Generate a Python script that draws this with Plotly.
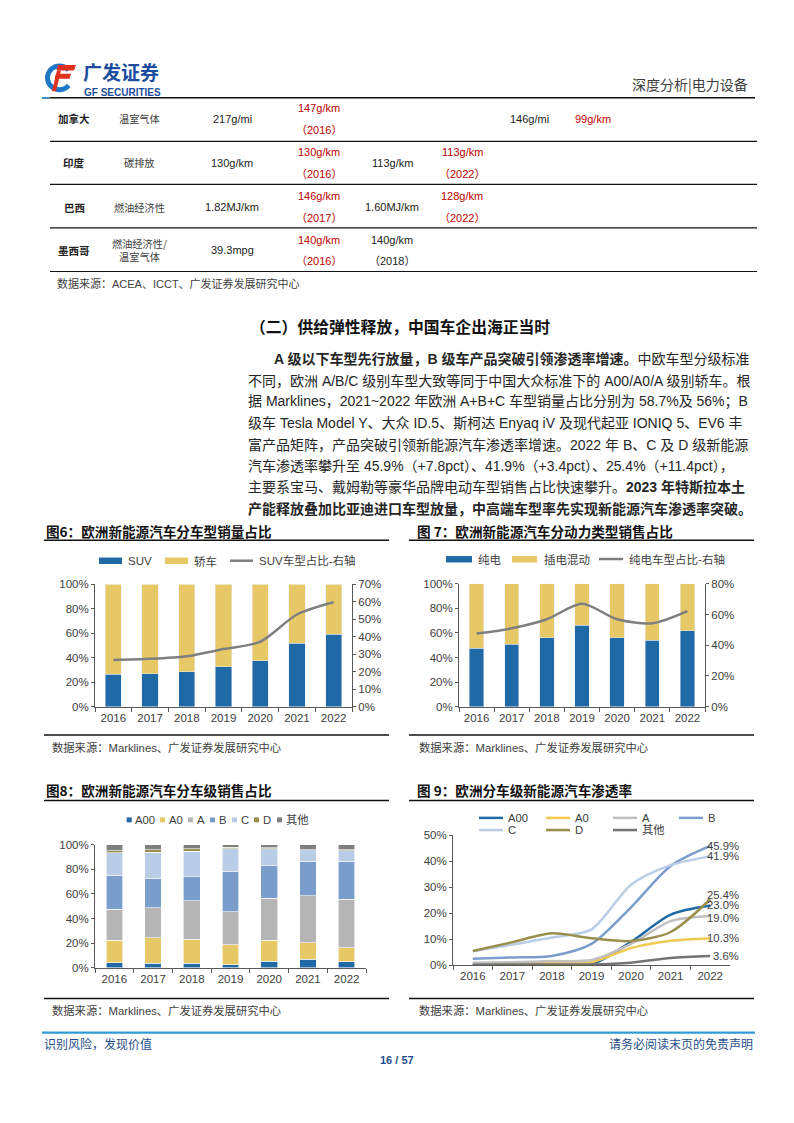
import math
import plotly.graph_objects as go

# the page body has an 8px margin; map reference page pixels onto the figure
OFF = 8
W, H = 794 - 2 * OFF, 1123 - 2 * OFF
def X(p): return (p - OFF) / W
def Y(p): return 1 - (p - OFF) / H

FONT = "Liberation Sans, Noto Sans CJK SC, sans-serif"
CJK = "Noto Sans CJK SC, Liberation Sans, sans-serif"

# ---------------- data ----------------
years = ["2016", "2017", "2018", "2019", "2020", "2021", "2022"]

# Fig 6: body type share (%)
suv_share = [26.4, 27.0, 28.6, 32.6, 37.7, 51.8, 59.3]
sedan_share = [73.6, 73.0, 71.4, 67.4, 62.3, 48.2, 40.7]
suv_line = [26.8, 27.4, 28.9, 33.0, 37.2, 52.8, 59.8]

# Fig 7: powertrain share (%)
bev_share = [47.5, 50.7, 56.0, 66.2, 56.0, 54.2, 61.7]
phev_share = [52.5, 49.3, 44.0, 33.8, 44.0, 45.8, 38.3]
bev_line = [47.6, 51.0, 56.9, 67.0, 56.9, 54.3, 62.2]

# Fig 8: segment share (%)
seg_names = ["A00", "A0", "A", "B", "C", "D", "其他"]
seg_a00 = [4.0, 3.7, 3.7, 2.7, 5.3, 7.0, 4.8]
seg_a0 = [18.5, 20.6, 19.3, 16.0, 17.2, 13.3, 11.5]
seg_a = [25.1, 24.4, 31.5, 26.8, 33.9, 38.3, 39.3]
seg_b = [27.3, 24.0, 19.5, 32.5, 26.5, 28.0, 30.8]
seg_c = [18.4, 21.2, 20.4, 18.8, 13.9, 9.1, 8.5]
seg_d = [1.9, 2.1, 2.1, 1.1, 0.5, 0.3, 0.8]
seg_other = [4.8, 4.0, 3.5, 2.1, 2.7, 4.0, 4.3]

# Fig 9: penetration by segment (%)
pen_a00 = [0.5, 0.5, 0.6, 0.4, 9.0, 19.5, 23.0]
pen_a0 = [0.4, 0.7, 1.0, 1.2, 6.6, 9.4, 10.3]
pen_a = [1.0, 1.2, 1.6, 2.0, 8.2, 17.0, 19.0]
pen_b = [2.5, 3.0, 3.6, 8.2, 22.3, 38.2, 45.9]
pen_c = [5.4, 8.0, 10.7, 13.8, 31.0, 38.5, 41.9]
pen_d = [5.5, 8.9, 12.3, 10.4, 9.3, 12.8, 25.4]
pen_other = [0.2, 0.3, 0.3, 0.3, 1.0, 2.8, 3.6]

# table
tbl_country = ["加拿大", "印度", "巴西", "墨西哥"]
tbl_metric = ["温室气体", "碳排放", "燃油经济性", "燃油经济性/<br>温室气体"]
tbl_base = ["217g/mi", "130g/km", "1.82MJ/km", "39.3mpg"]
tbl_red1 = ["147g/km", "130g/km", "146g/km", "140g/km"]
tbl_red1_year = ["（2016）", "（2016）", "（2017）", "（2016）"]
tbl_mid = ["", "113g/km", "1.60MJ/km", "140g/km"]
tbl_mid_year = ["", "", "", "（2018）"]
tbl_red2 = ["", "113g/km", "128g/km", ""]
tbl_red2_year = ["", "（2022）", "（2022）", ""]
tbl_c7 = ["146g/mi", "", "", ""]
tbl_c8 = ["99g/km", "", "", ""]

# ---------------- styles ----------------
BLUE = "#1F69A6"
YEL = "#E6C866"
GRAYL = "#7F7F7F"
seg_colors = ["#1F69A6", "#E6C866", "#B5B5B5", "#7B9DCC", "#B9CDE6", "#9A8E4C", "#7F7F7F"]
pen_colors = ["#1F69A6", "#F0C94F", "#BFBFBF", "#7B9DCC", "#B9CDE6", "#9A8E4C", "#737373"]
label_nudge = [0, 0, -2, 0, 0, 4, 0]  # px, to ease the crowded end labels
AX = "#595959"
TXT = "#404040"

fig = go.Figure()

# Fig 6
fig.add_trace(go.Bar(x=years, y=suv_share, xaxis="x", yaxis="y", marker=dict(color=BLUE), width=0.44))
fig.add_trace(go.Bar(x=years, y=sedan_share, xaxis="x", yaxis="y", marker=dict(color=YEL), width=0.44))
fig.add_trace(go.Scatter(x=years, y=suv_line, xaxis="x", yaxis="y2", mode="lines",
                         line=dict(color=GRAYL, width=2.5, shape="spline", smoothing=0.8)))
# Fig 7
fig.add_trace(go.Bar(x=years, y=bev_share, xaxis="x2", yaxis="y3", marker=dict(color=BLUE), width=0.41))
fig.add_trace(go.Bar(x=years, y=phev_share, xaxis="x2", yaxis="y3", marker=dict(color=YEL), width=0.41))
fig.add_trace(go.Scatter(x=years, y=bev_line, xaxis="x2", yaxis="y4", mode="lines",
                         line=dict(color=GRAYL, width=2.5, shape="spline", smoothing=0.8)))
# Fig 8
for vals, col in zip([seg_a00, seg_a0, seg_a, seg_b, seg_c, seg_d, seg_other], seg_colors):
    fig.add_trace(go.Bar(x=years, y=vals, xaxis="x3", yaxis="y5", width=0.43,
                         marker=dict(color=col, line=dict(color="white", width=0.6))))
# Fig 9
pens = [pen_a00, pen_a0, pen_a, pen_b, pen_c, pen_d, pen_other]
for vals, col in zip(pens, pen_colors):
    fig.add_trace(go.Scatter(x=years, y=vals, xaxis="x4", yaxis="y6", mode="lines",
                             line=dict(color=col, width=2.5, shape="spline", smoothing=0.8)))

def xax(d0, d1, anchor):
    return dict(domain=[X(d0), X(d1)], anchor=anchor, type="category", range=[-0.5, 6.5],
                showline=True, linecolor=AX, linewidth=1, ticks="outside", tickson="boundaries",
                ticklen=4, tickcolor=AX, showgrid=False, zeroline=False,
                tickfont=dict(size=11.5, color=TXT, family=FONT), fixedrange=True)

def yax(top, bot, anchor, rng, dt, side="left", overlay=None):
    d = dict(anchor=anchor, range=rng, dtick=dt, ticksuffix="%", showline=True, linecolor=AX,
             linewidth=1, ticks="outside", ticklen=3, tickcolor=AX, showgrid=False, zeroline=False,
             tickfont=dict(size=11.5, color=TXT, family=FONT), side=side)
    if overlay:
        d["overlaying"] = overlay
    else:
        d["domain"] = [Y(bot), Y(top)]
    return d

layout = dict(
    width=W, height=H, margin=dict(l=0, r=0, t=0, b=0), paper_bgcolor="white", plot_bgcolor="white",
    barmode="stack", showlegend=False, font=dict(family=FONT, color=TXT),
    xaxis=xax(95, 352, "y"),
    yaxis=yax(584.7, 708.3, "x", [0, 100], 20),
    yaxis2=yax(0, 0, "x", [0, 70], 10, side="right", overlay="y"),
    xaxis2=xax(459, 705, "y3"),
    yaxis3=yax(584.0, 708.3, "x2", [0, 100], 20),
    yaxis4=yax(0, 0, "x2", [0, 80], 20, side="right", overlay="y3"),
    xaxis3=xax(95, 366, "y5"),
    yaxis5=yax(847.7, 972.3, "x3", [0, 100], 20),
    xaxis4=xax(453, 730, "y6"),
    yaxis6=yax(838.3, 969.7, "x4", [0, 50], 10),
)

anns = []
shapes = []

def T(x, y, text, size=11, color=TXT, anchor="left", family=FONT):
    anns.append(dict(x=X(x), y=Y(y), xref="paper", yref="paper", text=text, showarrow=False,
                     xanchor=anchor, yanchor="middle", font=dict(size=size, color=color, family=family)))

def L(x0, y0, x1, y1, color="#000000", width=1.2):
    shapes.append(dict(type="line", xref="paper", yref="paper", x0=X(x0), y0=Y(y0), x1=X(x1), y1=Y(y1),
                       line=dict(color=color, width=width)))

def R(x0, y0, x1, y1, color):
    shapes.append(dict(type="rect", xref="paper", yref="paper", x0=X(x0), y0=Y(y0), x1=X(x1), y1=Y(y1),
                       fillcolor=color, line=dict(width=0)))

def P(points, color):
    path = "M " + " L ".join(f"{X(a):.5f},{Y(b):.5f}" for a, b in points) + " Z"
    shapes.append(dict(type="path", xref="paper", yref="paper", path=path, fillcolor=color,
                       line=dict(width=0)))

# ---------- header ----------
cx, cy, Ro, Ri = 59.5, 72.5, 14.5, 9.5
outer = [(cx + Ro * math.cos(math.radians(a)), cy - Ro * math.sin(math.radians(a))) for a in range(40, 321, 10)]
inner = [(cx + Ri * math.cos(math.radians(a)), cy - Ri * math.sin(math.radians(a))) for a in range(320, 39, -10)]
P(outer + inner, "#1E78C8")
P([(58, 59.5), (76, 59.5), (74, 65), (56.5, 65)], "#E2301F")
P([(56, 68.5), (71, 68.5), (69.5, 73.5), (54.5, 73.5)], "#E2301F")
P([(57, 65), (61, 65), (56, 86), (52, 86)], "#E2301F")
T(81, 66.5, "<b>广发证券</b>", size=19, color="#1C4D9E", family=CJK)
T(82, 87.5, "<b>GF SECURITIES</b>", size=10, color="#1C4D9E")
T(750, 79, "深度分析|电力设备", size=14, color=TXT, anchor="right", family=CJK)
L(42, 92.7, 755, 92.7, "#111111", 1.5)
L(42, 92.7, 50, 92.7, "#2E9BD6", 1.5)

# ---------- table ----------
row_c = [114, 158.3, 203.3, 247]
for i, yc in enumerate(row_c):
    T(74, yc, f"<b>{tbl_country[i]}</b>", size=10.5, color="#222222", anchor="center", family=CJK)
    T(139, yc, tbl_metric[i], size=10.2, color=TXT, anchor="center", family=CJK)
    T(232, yc, tbl_base[i], size=11, color="#222222", anchor="center")
    T(319, yc - 11, tbl_red1[i], size=11, color="#C00000", anchor="center")
    T(319, yc + 11, tbl_red1_year[i], size=11, color="#C00000", anchor="center")
    if tbl_mid[i]:
        if tbl_mid_year[i]:
            T(392, yc - 11, tbl_mid[i], size=11, color="#222222", anchor="center")
            T(392, yc + 11, tbl_mid_year[i], size=11, color="#222222", anchor="center")
        else:
            T(392, yc, tbl_mid[i], size=11, color="#222222", anchor="center")
    if tbl_red2[i]:
        T(462, yc - 11, tbl_red2[i], size=11, color="#C00000", anchor="center")
        T(462, yc + 11, tbl_red2_year[i], size=11, color="#C00000", anchor="center")
    if tbl_c7[i]:
        T(529, yc, tbl_c7[i], size=11, color="#222222", anchor="center")
    if tbl_c8[i]:
        T(593, yc, tbl_c8[i], size=11, color="#C00000", anchor="center")
for yl in [136.7, 180.3, 224.3, 268.3]:
    L(50, yl, 757, yl, "#111111", 1.2)
T(55, 280.5, "数据来源：ACEA、ICCT、广发证券发展研究中心", size=11, color=TXT)

# ---------- section text ----------
T(248, 323.5, "<b>（二）供给弹性释放，中国车企出海正当时</b>", size=15.8, color="#111111", family=CJK)
para = [
    "<b>A 级以下车型先行放量，B 级车产品突破引领渗透率增速。</b>中欧车型分级标准",
    "不同，欧洲 A/B/C 级别车型大致等同于中国大众标准下的 A00/A0/A 级别轿车。根",
    "据 Marklines，2021~2022 年欧洲 A+B+C 车型销量占比分别为 58.7%及 56%；B",
    "级车 Tesla Model Y、大众 ID.5、斯柯达 Enyaq iV 及现代起亚 IONIQ 5、EV6 丰",
    "富产品矩阵，产品突破引领新能源汽车渗透率增速。2022 年 B、C 及 D 级新能源",
    "汽车渗透率攀升至 45.9%（+7.8pct）、41.9%（+3.4pct）、25.4%（+11.4pct），",
    "主要系宝马、戴姆勒等豪华品牌电动车型销售占比快速攀升。<b>2023 年特斯拉本土</b>",
    "<b>产能释放叠加比亚迪进口车型放量，中高端车型率先实现新能源汽车渗透率突破。</b>",
]
for i, line in enumerate(para):
    T(272 if i == 0 else 246, 357 + 21.6 * i, line, size=14.0, color="#262626")

# ---------- figure titles and rules ----------
T(44, 530.5, "<b>图6：欧洲新能源汽车分车型销量占比</b>", size=13.6, color="#111111", family=CJK)
T(415, 530.5, "<b>图 7：欧洲新能源汽车分动力类型销售占比</b>", size=13.6, color="#111111", family=CJK)
T(44, 793, "<b>图8：欧洲新能源汽车分车级销售占比</b>", size=13.6, color="#111111", family=CJK)
T(415, 793, "<b>图 9：欧洲分车级新能源汽车渗透率</b>", size=13.6, color="#111111", family=CJK)
for yl in [540, 737, 803, 1003.3]:
    L(44, yl, 389, yl, "#111111", 1.5)
    L(409, yl, 754, yl, "#111111", 1.5)
src = "数据来源：Marklines、广发证券发展研究中心"
T(50, 750, src, size=11.3, color=TXT)
T(417, 750, src, size=11.3, color=TXT)
T(50, 1015, src, size=11.3, color=TXT)
T(417, 1015, src, size=11.3, color=TXT)

# ---------- legends ----------
# fig 6
R(99, 557.5, 122, 564, BLUE); T(126, 560.7, "SUV", size=11.5)
R(165, 557.5, 188, 564, YEL); T(192, 560.7, "轿车", size=11.5, family=CJK)
L(230, 560.7, 253, 560.7, GRAYL, 2.5); T(257, 560.7, "SUV车型占比-右轴", size=11.5)
# fig 7
R(446, 556, 472, 562.5, BLUE); T(476, 559, "纯电", size=11.5, family=CJK)
R(512, 556, 537, 562.5, YEL); T(542, 559, "插电混动", size=11.5, family=CJK)
L(599, 559, 623, 559, GRAYL, 2.5); T(627, 559, "纯电车型占比-右轴", size=11.5, family=CJK)
# fig 8
sq_x = [126.7, 160, 188, 210, 232, 254, 277]
for name, col, sx in zip(seg_names, seg_colors, sq_x):
    R(sx, 820.2, sx + 5, 825.2, col)
    T(sx + 6.5, 822.7, name, size=11.3)
# fig 9
lg_x = [479, 546, 613, 679, 479, 546, 613]
lg_y = [820.7, 820.7, 820.7, 820.7, 833, 833, 833]
for name, col, lx, ly in zip(seg_names, pen_colors, lg_x, lg_y):
    L(lx, ly, lx + 24, ly, col, 2.5)
    T(lx + 27, ly, name, size=11.3)

# fig 9 end labels (from last values), placed at the last category index
last_idx = len(years) - 1
for vals, nudge in zip(pens, label_nudge):
    anns.append(dict(x=last_idx, y=vals[-1], xref="x4", yref="y6", text=f"{vals[-1]:.1f}%",
                     showarrow=False, xanchor="right", yanchor="middle", xshift=31, yshift=nudge,
                     font=dict(size=11.3, color=TXT, family=FONT)))

# ---------- footer ----------
L(42, 1037.7, 755, 1037.7, "#2E9BD6", 2.2)
T(42, 1048.5, "识别风险，发现价值", size=12, color="#1F4E8C", family=CJK)
T(755, 1048.5, "请务必阅读末页的免责声明", size=12, color="#1F4E8C", anchor="right", family=CJK)
T(397, 1065.5, "<b>16 / 57</b>", size=11, color="#1F4E8C", anchor="center")

layout["annotations"] = anns
layout["shapes"] = shapes
fig.update_layout(**layout)
fig.write_html("out.html")
